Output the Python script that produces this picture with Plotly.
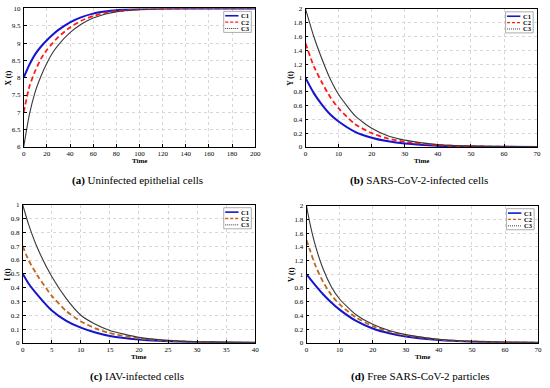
import plotly.graph_objects as go

# ---- data ----
SERIES = ["C1", "C2", "C3"]

T_A = [0, 5, 10, 15, 20, 25, 30, 40, 50, 60, 70, 80, 100, 120, 150, 200]
XA_C1 = [8.0, 8.38, 8.68, 8.9, 9.08, 9.24, 9.38, 9.6, 9.75, 9.85, 9.91, 9.95, 9.98, 9.995, 10.0, 10.0]
XA_C2 = [7.0, 7.75, 8.2, 8.55, 8.8, 9.0, 9.18, 9.45, 9.65, 9.78, 9.87, 9.92, 9.97, 9.99, 10.0, 10.0]
XA_C3 = [6.0, 6.95, 7.6, 8.05, 8.42, 8.72, 8.95, 9.3, 9.55, 9.72, 9.83, 9.9, 9.96, 9.99, 10.0, 10.0]

T_B = [0, 2.5, 5, 7.5, 10, 15, 20, 25, 30, 40, 50, 60, 70]
YB_C1 = [1.0, 0.78, 0.61, 0.47, 0.37, 0.22, 0.135, 0.082, 0.05, 0.018, 0.007, 0.0025, 0.001]
YB_C2 = [1.5, 1.17, 0.93, 0.72, 0.56, 0.33, 0.2, 0.12, 0.075, 0.027, 0.01, 0.004, 0.0015]
YB_C3 = [2.0, 1.6, 1.27, 0.98, 0.76, 0.45, 0.27, 0.16, 0.1, 0.036, 0.013, 0.005, 0.002]

T_C = [0, 1, 2.5, 5, 7.5, 10, 12.5, 15, 20, 25, 30, 35, 40]
IC_C1 = [0.5, 0.43, 0.35, 0.235, 0.16, 0.11, 0.075, 0.05, 0.024, 0.011, 0.005, 0.0025, 0.001]
IC_C2 = [0.7, 0.6, 0.49, 0.34, 0.23, 0.155, 0.105, 0.07, 0.032, 0.015, 0.007, 0.003, 0.0015]
IC_C3 = [1.0, 0.86, 0.69, 0.48, 0.32, 0.2, 0.135, 0.09, 0.04, 0.018, 0.008, 0.0035, 0.0015]

T_D = [0, 1, 2.5, 5, 7.5, 10, 15, 20, 25, 30, 40, 50, 60, 70]
VD_C1 = [1.0, 0.94, 0.85, 0.71, 0.59, 0.485, 0.32, 0.21, 0.14, 0.093, 0.04, 0.017, 0.007, 0.003]
VD_C2 = [1.5, 1.36, 1.15, 0.89, 0.7, 0.56, 0.37, 0.245, 0.165, 0.11, 0.048, 0.021, 0.009, 0.004]
VD_C3 = [2.0, 1.75, 1.45, 1.08, 0.82, 0.64, 0.41, 0.27, 0.18, 0.12, 0.052, 0.023, 0.01, 0.004]

Y_TITLES = ["X (t)", "Y (t)", "I (t)", "V (t)"]
CAPTIONS = [("(a)", " Uninfected epithelial cells"),
            ("(b)", " SARS-CoV-2-infected cells"),
            ("(c)", " IAV-infected cells"),
            ("(d)", " Free SARS-CoV-2 particles")]

W, H = 550, 388
# plot-area boxes in pixels: left, right, top, bottom
panels = [
    dict(t=T_A, ys=[XA_C1, XA_C2, XA_C3], xr=[0, 200], xd=20, yr=[6, 10], yd=0.5,
         box=(22, 257, 4.5, 146), c2="#ff1a1a"),
    dict(t=T_B, ys=[YB_C1, YB_C2, YB_C3], xr=[0, 70], xd=10, yr=[0, 2], yd=0.2,
         box=(308, 543, 5, 146), c2="#ff1a1a"),
    dict(t=T_C, ys=[IC_C1, IC_C2, IC_C3], xr=[0, 40], xd=5, yr=[0, 1], yd=0.1,
         box=(21, 257, 205, 346), c2="#c0651a"),
    dict(t=T_D, ys=[VD_C1, VD_C2, VD_C3], xr=[0, 70], xd=10, yr=[0, 2], yd=0.2,
         box=(309, 544, 206, 346), c2="#c0651a"),
]


def px(x):
    return x / W


def py(y):
    return 1 - y / H


SERIF = "Liberation Serif"
fig = go.Figure()
annotations = []
shapes = []
layout = dict(width=W, height=H, margin=dict(l=0, r=0, t=0, b=0),
              paper_bgcolor="white", plot_bgcolor="white", showlegend=False)

for i, p in enumerate(panels):
    n = "" if i == 0 else str(i + 1)
    xa, ya = "x" + n, "y" + n
    L, R, T, B = p["box"]
    styles = [dict(color="#1515d0", width=2.0),
              dict(color=p["c2"], width=1.8, dash="5px,3px"),
              dict(color="#383838", width=1.1)]
    for s, y, st in zip(SERIES, p["ys"], styles):
        fig.add_trace(go.Scatter(x=p["t"], y=y, mode="lines", name=s,
                                 line=dict(shape="spline", smoothing=0.6, **st),
                                 xaxis=xa, yaxis=ya))
    axcommon = dict(showline=True, linecolor="black", linewidth=0.8, mirror=True,
                    ticks="inside", ticklen=3, tickcolor="black",
                    showgrid=True, gridcolor="#d8d8d8", griddash="dot", gridwidth=0.8,
                    zeroline=False, tickfont=dict(family=SERIF, size=7, color="black"))
    layout["xaxis" + n] = dict(domain=[px(L), px(R)], range=p["xr"], dtick=p["xd"], tick0=0,
                               anchor=ya, ticklabelstandoff=0, **axcommon)
    layout["yaxis" + n] = dict(domain=[py(B), py(T)], range=p["yr"], dtick=p["yd"], tick0=0,
                               anchor=xa, ticklabelstandoff=1, **axcommon)

    # legend box (drawn as shapes + real text)
    bx0, bx1, by0, by1 = R - 32, R - 4, T + 3, T + 24.5
    shapes.append(dict(type="rect", xref="paper", yref="paper", x0=px(bx0), x1=px(bx1),
                       y0=py(by1), y1=py(by0), line=dict(color="#8a8a8a", width=0.7),
                       fillcolor="white", layer="above"))
    leg_styles = [dict(color="#1515d0", width=1.6),
                  dict(color=p["c2"], width=1.3, dash="3px,2px"),
                  dict(color="#383838", width=1.0, dash="1px,1px")]
    for k, (s, ls) in enumerate(zip(SERIES, leg_styles)):
        yy = T + 7.5 + 6.5 * k
        shapes.append(dict(type="line", xref="paper", yref="paper", x0=px(bx0 + 1.5), x1=px(bx0 + 15),
                           y0=py(yy), y1=py(yy), line=ls, layer="above"))
        annotations.append(dict(text="<b>" + s + "</b>", x=px(bx0 + 16), y=py(yy), xref="paper", yref="paper",
                                xanchor="left", yanchor="middle", showarrow=False,
                                font=dict(family=SERIF, size=6.5, color="black")))

    cx = (L + R) / 2
    annotations.append(dict(text="<b>Time</b>", x=px(cx), y=py(B + 14.5), xref="paper", yref="paper",
                            xanchor="center", yanchor="middle", showarrow=False,
                            font=dict(family=SERIF, size=7, color="black")))
    annotations.append(dict(text="<b>" + Y_TITLES[i] + "</b>", x=px(L - 15),
                            y=py((T + B) / 2), xref="paper", yref="paper",
                            xanchor="center", yanchor="middle", textangle=-90, showarrow=False,
                            font=dict(family=SERIF, size=7.5, color="black")))
    lab, cap = CAPTIONS[i]
    annotations.append(dict(text="<b>" + lab + "</b>" + cap, x=px(cx - 2), y=py(B + 34),
                            xref="paper", yref="paper", xanchor="center", yanchor="middle",
                            showarrow=False, font=dict(family=SERIF, size=11, color="black")))

layout["annotations"] = annotations
layout["shapes"] = shapes
fig.update_layout(**layout)
fig.write_html("out.html", config={"displayModeBar": False},
               post_script="document.body.style.margin='0';document.body.style.overflow='hidden';")
